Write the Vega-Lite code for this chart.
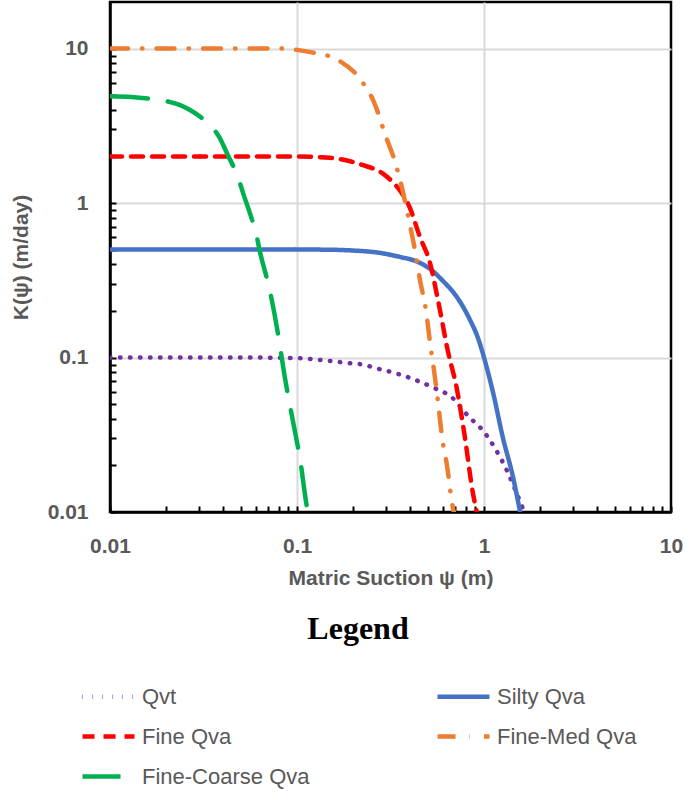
{
  "$schema": "https://vega.github.io/schema/vega-lite/v6.json",
  "autosize": {"type": "none"},
  "width": 561,
  "height": 510,
  "padding": {"left": 110, "top": 2, "right": 14, "bottom": 280},
  "background": "white",
  "config": {
    "view": {"stroke": "black", "strokeWidth": 2.5},
    "font": "Liberation Sans"
  },
  "data": {
    "values": [
      {"s": "Qvt", "x": 0.01, "y": 0.1},
      {"s": "Qvt", "x": 0.05, "y": 0.1},
      {"s": "Qvt", "x": 0.1, "y": 0.099},
      {"s": "Qvt", "x": 0.15, "y": 0.095},
      {"s": "Qvt", "x": 0.19, "y": 0.092},
      {"s": "Qvt", "x": 0.217, "y": 0.0906},
      {"s": "Qvt", "x": 0.278, "y": 0.084},
      {"s": "Qvt", "x": 0.35, "y": 0.078},
      {"s": "Qvt", "x": 0.412, "y": 0.073},
      {"s": "Qvt", "x": 0.533, "y": 0.064},
      {"s": "Qvt", "x": 0.68, "y": 0.0546},
      {"s": "Qvt", "x": 0.82, "y": 0.042},
      {"s": "Qvt", "x": 1.0, "y": 0.033},
      {"s": "Qvt", "x": 1.16, "y": 0.0252},
      {"s": "Qvt", "x": 1.33, "y": 0.0184},
      {"s": "Qvt", "x": 1.47, "y": 0.0139},
      {"s": "Qvt", "x": 1.64, "y": 0.01},
      {"s": "Silty Qva", "x": 0.01, "y": 0.5},
      {"s": "Silty Qva", "x": 0.1, "y": 0.5},
      {"s": "Silty Qva", "x": 0.156, "y": 0.498},
      {"s": "Silty Qva", "x": 0.19, "y": 0.494},
      {"s": "Silty Qva", "x": 0.288, "y": 0.472},
      {"s": "Silty Qva", "x": 0.356, "y": 0.447},
      {"s": "Silty Qva", "x": 0.438, "y": 0.418},
      {"s": "Silty Qva", "x": 0.527, "y": 0.366},
      {"s": "Silty Qva", "x": 0.6, "y": 0.315},
      {"s": "Silty Qva", "x": 0.718, "y": 0.245},
      {"s": "Silty Qva", "x": 0.84, "y": 0.176},
      {"s": "Silty Qva", "x": 0.93, "y": 0.133},
      {"s": "Silty Qva", "x": 1.0, "y": 0.1},
      {"s": "Silty Qva", "x": 1.12, "y": 0.0587},
      {"s": "Silty Qva", "x": 1.26, "y": 0.0305},
      {"s": "Silty Qva", "x": 1.43, "y": 0.0168},
      {"s": "Silty Qva", "x": 1.56, "y": 0.01},
      {"s": "Fine Qva", "x": 0.01, "y": 2.0},
      {"s": "Fine Qva", "x": 0.1, "y": 2.0},
      {"s": "Fine Qva", "x": 0.15, "y": 1.96},
      {"s": "Fine Qva", "x": 0.19, "y": 1.87},
      {"s": "Fine Qva", "x": 0.225, "y": 1.76},
      {"s": "Fine Qva", "x": 0.288, "y": 1.55},
      {"s": "Fine Qva", "x": 0.326, "y": 1.36},
      {"s": "Fine Qva", "x": 0.36, "y": 1.18},
      {"s": "Fine Qva", "x": 0.40, "y": 0.94},
      {"s": "Fine Qva", "x": 0.455, "y": 0.6},
      {"s": "Fine Qva", "x": 0.514, "y": 0.41},
      {"s": "Fine Qva", "x": 0.568, "y": 0.234},
      {"s": "Fine Qva", "x": 0.64, "y": 0.111},
      {"s": "Fine Qva", "x": 0.718, "y": 0.0615},
      {"s": "Fine Qva", "x": 0.79, "y": 0.0305},
      {"s": "Fine Qva", "x": 0.87, "y": 0.0135},
      {"s": "Fine Qva", "x": 0.915, "y": 0.01},
      {"s": "Fine-Med Qva", "x": 0.01, "y": 10},
      {"s": "Fine-Med Qva", "x": 0.08, "y": 10},
      {"s": "Fine-Med Qva", "x": 0.1, "y": 9.8},
      {"s": "Fine-Med Qva", "x": 0.122, "y": 9.4},
      {"s": "Fine-Med Qva", "x": 0.16, "y": 8.6},
      {"s": "Fine-Med Qva", "x": 0.225, "y": 6.0},
      {"s": "Fine-Med Qva", "x": 0.258, "y": 4.5},
      {"s": "Fine-Med Qva", "x": 0.30, "y": 2.65},
      {"s": "Fine-Med Qva", "x": 0.33, "y": 1.94},
      {"s": "Fine-Med Qva", "x": 0.364, "y": 1.26},
      {"s": "Fine-Med Qva", "x": 0.397, "y": 0.77},
      {"s": "Fine-Med Qva", "x": 0.428, "y": 0.49},
      {"s": "Fine-Med Qva", "x": 0.455, "y": 0.316},
      {"s": "Fine-Med Qva", "x": 0.49, "y": 0.2},
      {"s": "Fine-Med Qva", "x": 0.514, "y": 0.126},
      {"s": "Fine-Med Qva", "x": 0.54, "y": 0.083},
      {"s": "Fine-Med Qva", "x": 0.568, "y": 0.051},
      {"s": "Fine-Med Qva", "x": 0.6, "y": 0.029},
      {"s": "Fine-Med Qva", "x": 0.634, "y": 0.02},
      {"s": "Fine-Med Qva", "x": 0.674, "y": 0.0115},
      {"s": "Fine-Med Qva", "x": 0.69, "y": 0.01},
      {"s": "Fine-Coarse Qva", "x": 0.01, "y": 4.9},
      {"s": "Fine-Coarse Qva", "x": 0.013, "y": 4.85},
      {"s": "Fine-Coarse Qva", "x": 0.0164, "y": 4.72},
      {"s": "Fine-Coarse Qva", "x": 0.021, "y": 4.5},
      {"s": "Fine-Coarse Qva", "x": 0.0237, "y": 4.3},
      {"s": "Fine-Coarse Qva", "x": 0.0268, "y": 4.0},
      {"s": "Fine-Coarse Qva", "x": 0.0322, "y": 3.4},
      {"s": "Fine-Coarse Qva", "x": 0.0384, "y": 2.67},
      {"s": "Fine-Coarse Qva", "x": 0.043, "y": 2.0},
      {"s": "Fine-Coarse Qva", "x": 0.048, "y": 1.51},
      {"s": "Fine-Coarse Qva", "x": 0.0516, "y": 1.15},
      {"s": "Fine-Coarse Qva", "x": 0.0561, "y": 0.853},
      {"s": "Fine-Coarse Qva", "x": 0.0604, "y": 0.634},
      {"s": "Fine-Coarse Qva", "x": 0.0634, "y": 0.482},
      {"s": "Fine-Coarse Qva", "x": 0.0718, "y": 0.266},
      {"s": "Fine-Coarse Qva", "x": 0.079, "y": 0.144},
      {"s": "Fine-Coarse Qva", "x": 0.086, "y": 0.075},
      {"s": "Fine-Coarse Qva", "x": 0.095, "y": 0.039},
      {"s": "Fine-Coarse Qva", "x": 0.104, "y": 0.0217},
      {"s": "Fine-Coarse Qva", "x": 0.113, "y": 0.0108},
      {"s": "Fine-Coarse Qva", "x": 0.1145, "y": 0.01}
    ]
  },
  "mark": {"type": "line", "strokeWidth": 4.5, "strokeCap": "round", "clip": true, "interpolate": "monotone"},
  "encoding": {
    "x": {
      "field": "x", "type": "quantitative",
      "scale": {"type": "log", "domain": [0.01, 10], "nice": false},
      "axis": {
        "title": "Matric Suction ψ (m)",
        "values": [0.01, 0.02, 0.03, 0.04, 0.05, 0.06, 0.07, 0.08, 0.09, 0.1, 0.2, 0.3, 0.4, 0.5, 0.6, 0.7, 0.8, 0.9, 1, 2, 3, 4, 5, 6, 7, 8, 9, 10],
        "labelExpr": "datum.value == 0.01 ? '0.01' : datum.value == 0.1 ? '0.1' : datum.value == 1 ? '1' : datum.value == 10 ? '10' : ''",
        "tickSize": -6, "tickColor": "black", "tickWidth": 2,
        "domainColor": "black", "domainWidth": 2.5,
        "grid": true, "gridColor": "#D9D9D9", "gridWidth": 2,
        "gridOpacity": {"condition": {"test": "datum.value == 0.1 || datum.value == 1", "value": 1}, "value": 0},
        "labelFont": "Liberation Sans", "labelFontSize": 21, "labelFontWeight": "bold", "labelColor": "#595959",
        "labelPadding": 29, "labelFlush": false, "labelOverlap": false,
        "titleFont": "Liberation Sans", "titleFontSize": 21, "titleFontWeight": "bold", "titleColor": "#595959",
        "titlePadding": 11
      }
    },
    "y": {
      "field": "y", "type": "quantitative",
      "scale": {"type": "log", "domain": [0.01, 20], "nice": false},
      "axis": {
        "title": "K(ψ) (m/day)",
        "values": [0.01, 0.02, 0.03, 0.04, 0.05, 0.06, 0.07, 0.08, 0.09, 0.1, 0.2, 0.3, 0.4, 0.5, 0.6, 0.7, 0.8, 0.9, 1, 2, 3, 4, 5, 6, 7, 8, 9, 10],
        "labelExpr": "datum.value == 0.01 ? '0.01' : datum.value == 0.1 ? '0.1' : datum.value == 1 ? '1' : datum.value == 10 ? '10' : ''",
        "tickSize": -6, "tickColor": "black", "tickWidth": 2,
        "domainColor": "black", "domainWidth": 2.5,
        "grid": true, "gridColor": "#D9D9D9", "gridWidth": 2,
        "gridOpacity": {"condition": {"test": "datum.value == 0.1 || datum.value == 1 || datum.value == 10", "value": 1}, "value": 0},
        "labelFont": "Liberation Sans", "labelFontSize": 21, "labelFontWeight": "bold", "labelColor": "#595959",
        "labelPadding": 28, "labelFlush": false, "labelOverlap": false,
        "titleFont": "Liberation Sans", "titleFontSize": 21, "titleFontWeight": "bold", "titleColor": "#595959",
        "titlePadding": 16
      }
    },
    "color": {
      "field": "s", "type": "nominal",
      "scale": {
        "domain": ["Qvt", "Silty Qva", "Fine Qva", "Fine-Med Qva", "Fine-Coarse Qva"],
        "range": ["#7030A0", "#4472C4", "#FF0000", "#ED7D31", "#00B050"]
      },
      "legend": {
        "orient": "none", "legendX": -30, "legendY": 612,
        "direction": "horizontal",
        "title": "Legend", "columns": 2, "columnPadding": 118, "rowPadding": 0,
        "titleFont": "Liberation Serif", "titleFontSize": 32, "titleFontWeight": "bold", "titleColor": "black",
        "titleAnchor": "middle", "titlePadding": 22,
        "symbolType": "stroke", "symbolSize": 2700, "symbolStrokeWidth": 4.5,
        "labelFont": "Liberation Sans", "labelFontSize": 22, "labelColor": "#595959", "labelOffset": 5, "labelLimit": 300
      }
    },
    "strokeDash": {
      "field": "s", "type": "nominal",
      "scale": {
        "domain": ["Qvt", "Silty Qva", "Fine Qva", "Fine-Med Qva", "Fine-Coarse Qva"],
        "range": [[0.5, 9.5], [1, 0], [12, 9], [18, 14, 0.5, 14], [38, 20]]
      },
      "legend": null
    }
  }
}
